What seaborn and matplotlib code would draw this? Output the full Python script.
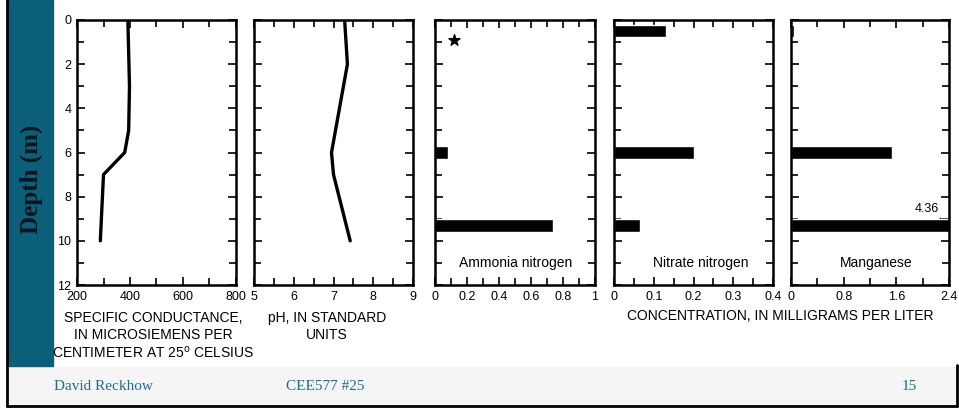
"""
Lake profile slide: conductance, pH and nutrient/metal concentrations vs depth.
"""

import matplotlib
matplotlib.use("Agg")
import matplotlib.pyplot as plt
from matplotlib.lines import Line2D
from matplotlib.patches import Rectangle
from matplotlib.ticker import FuncFormatter, MultipleLocator
import pandas as pd
import seaborn as sns

W, H = 959, 409  # output size in pixels

# Continuous profiles (depth in m)
COND_DEPTH = [0, 3, 5, 6, 7, 10]
COND_VALUE = [392, 398, 395, 380, 300, 288]
PH_DEPTH = [0, 2, 6, 7, 10]
PH_VALUE = [7.28, 7.35, 6.95, 7.0, 7.42]

# Discrete samples (mg/L)
AMMONIA_DEPTH = [6.0, 9.3]
AMMONIA_VALUE = [0.08, 0.74]
NITRATE_DEPTH = [0.5, 6.0, 9.3]
NITRATE_VALUE = [0.13, 0.20, 0.065]
MANGANESE_DEPTH = [0.5, 6.0, 9.3]
MANGANESE_VALUE = [0.05, 1.54, 4.36]

DEPTH_TICKS = [0, 2, 4, 6, 8, 10, 12]

TEAL = "#0b5f78"
FOOT_TEXT = "#236b86"
BAR_H = 0.56  # bar thickness in depth units

sns.set_style("ticks")
plt.rcParams["font.family"] = ["Liberation Sans", "DejaVu Sans"]
plt.rcParams["axes.linewidth"] = 1.8
plt.rcParams["text.color"] = "black"


def px_box(x0, x1, y0=20, y1=285):
    """Axes rectangle in figure fraction from pixel edges."""
    return [x0 / W, 1 - y1 / H, (x1 - x0) / W, (y1 - y0) / H]


fig = plt.figure(figsize=(W / 100, H / 100), dpi=100)

# slide decoration
fig.patches.append(Rectangle((7 / W, 1 - 405 / H), 950 / W, 38 / H,
                             transform=fig.transFigure, color="#f5f5f5", zorder=0))
fig.patches.append(Rectangle((8 / W, 1 - 366 / H), 45 / W, 366 / H,
                             transform=fig.transFigure, color=TEAL, zorder=1))
for xs, ys in [([6.5, 6.5], [0, 406]), ([6.5, 957], [406, 406]), ([957, 957], [365, 406])]:
    fig.lines.append(Line2D([x / W for x in xs], [1 - y / H for y in ys],
                            transform=fig.transFigure, color="black", lw=2))

panels = [
    (77, 236, (200, 800), 200, 100),
    (254, 413, (5, 9), 1, 0.5),
    (435, 595, (0, 1), 0.2, 0.1),
    (614, 773, (0, 0.4), 0.1, 0.05),
    (791, 949, (0, 2.4), 0.8, 0.4),
]
axes = []
for i, (x0, x1, xlim, major, minor) in enumerate(panels):
    ax = fig.add_axes(px_box(x0, x1))
    ax.set_xlim(*xlim)
    ax.set_ylim(12, 0)
    ax.xaxis.set_major_locator(MultipleLocator(major))
    ax.xaxis.set_minor_locator(MultipleLocator(minor))
    ax.xaxis.set_major_formatter(FuncFormatter(lambda v, p: f"{v:g}"))
    ax.set_yticks(DEPTH_TICKS)
    ax.yaxis.set_minor_locator(MultipleLocator(1))
    ax.tick_params(which="both", direction="in", top=True, right=True,
                   width=1.2, labelsize=9, pad=4, colors="black")
    ax.tick_params(which="major", length=6)
    ax.tick_params(which="minor", length=5)
    if i > 0:
        ax.tick_params(axis="y", labelleft=False)
    for sp in ax.spines.values():
        sp.set_visible(True)
        sp.set_color("black")
    axes.append(ax)

# profiles
sns.lineplot(x=COND_VALUE, y=COND_DEPTH, orient="y", sort=False, estimator=None,
             color="black", lw=2.4, ax=axes[0])
sns.lineplot(x=PH_VALUE, y=PH_DEPTH, orient="y", sort=False, estimator=None,
             color="black", lw=2.4, ax=axes[1])

# concentration bars
for ax, depth, value in [(axes[2], AMMONIA_DEPTH, AMMONIA_VALUE),
                         (axes[3], NITRATE_DEPTH, NITRATE_VALUE),
                         (axes[4], MANGANESE_DEPTH, MANGANESE_VALUE)]:
    df = pd.DataFrame({"depth": depth, "value": value})
    spacing = min(b - a for a, b in zip(df["depth"][:-1], df["depth"][1:]))
    sns.barplot(data=df, x="value", y="depth", orient="h", native_scale=True,
                width=BAR_H / spacing, color="black", errorbar=None,
                saturation=1, ax=ax)
    ax.set_ylim(12, 0)

for ax in axes:
    ax.set_xlabel("")
    ax.set_ylabel("")

axes[2].scatter([0.12], [0.9], marker="*", s=70, color="black", zorder=5, clip_on=False)
axes[2].text(0.506, 11.0, "Ammonia nitrogen", ha="center", va="center", fontsize=10)
axes[3].text(0.218, 11.0, "Nitrate nitrogen", ha="center", va="center", fontsize=10)
axes[4].text(1.29, 11.0, "Manganese", ha="center", va="center", fontsize=10)
axes[4].annotate("4.36", xy=(2.28, 9.0), xytext=(2.06, 8.55), ha="center", va="center",
                 fontsize=9, arrowprops=dict(arrowstyle="-", lw=0.8, color="black",
                                             shrinkA=2, shrinkB=0))

# axis titles
fig.text(153 / W, 1 - 311 / H,
         "SPECIFIC CONDUCTANCE,\nIN MICROSIEMENS PER\nCENTIMETER AT 25$^{\\mathrm{o}}$ CELSIUS",
         ha="center", va="top", fontsize=10, linespacing=1.25)
fig.text(327 / W, 1 - 311 / H, "pH, IN STANDARD\nUNITS",
         ha="center", va="top", fontsize=10, linespacing=1.25)
fig.text(780 / W, 1 - 309 / H, "CONCENTRATION, IN MILLIGRAMS PER LITER",
         ha="center", va="top", fontsize=10)

fig.text(31 / W, 1 - 179 / H, "Depth (m)", rotation=90, ha="center", va="center",
         fontsize=18, fontweight="bold", family=["Liberation Serif", "DejaVu Serif"],
         color="#0d1620")

# footer
for x, s, ha in [(54, "David Reckhow", "left"), (286, "CEE577 #25", "left"),
                 (917, "15", "right")]:
    fig.text(x / W, 1 - 387 / H, s, ha=ha, va="center", fontsize=11,
             family=["Liberation Serif", "DejaVu Serif"], color=FOOT_TEXT)

fig.savefig("out.png", dpi=100)
plt.close(fig)
